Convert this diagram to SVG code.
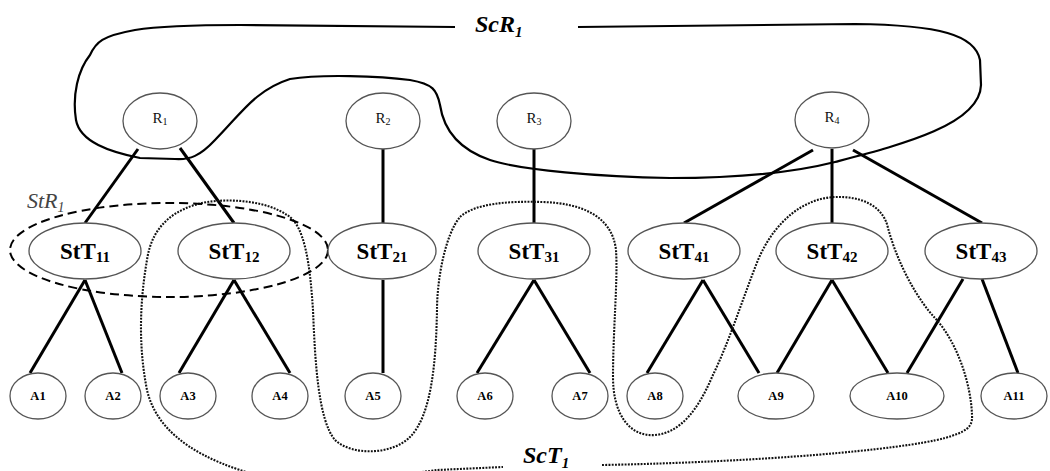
<svg xmlns="http://www.w3.org/2000/svg" width="1050" height="471" viewBox="0 0 1050 471">
<style>
.node{fill:#fff;stroke:#555;stroke-width:1.3}
.edge{stroke:#000;stroke-width:3;fill:none}
.rt{font-family:"Liberation Serif",serif;font-size:15px;fill:#111;text-anchor:middle}
.st{font-family:"Liberation Serif",serif;font-size:23px;font-weight:bold;fill:#000;text-anchor:middle}
.at{font-family:"Liberation Serif",serif;font-size:12.5px;font-weight:bold;fill:#000;text-anchor:middle}
.lbl{font-family:"Liberation Serif",serif;font-size:24px;font-weight:bold;font-style:italic;fill:#000}
.sub{font-size:15px}
.ssub{font-size:10px}
</style>
<rect width="1050" height="471" fill="#fff"/>
<g id="connectors">
<line class="edge" x1="138" y1="149" x2="85" y2="223"/>
<line class="edge" x1="180" y1="148" x2="234" y2="223"/>
<line class="edge" x1="383" y1="149" x2="383" y2="223"/>
<line class="edge" x1="534" y1="149" x2="534" y2="223"/>
<line class="edge" x1="813" y1="150" x2="684" y2="223"/>
<line class="edge" x1="832" y1="149" x2="832" y2="223"/>
<line class="edge" x1="853" y1="150" x2="982" y2="223"/>
<line class="edge" x1="85" y1="280" x2="30" y2="373"/>
<line class="edge" x1="85" y1="280" x2="122" y2="373"/>
<line class="edge" x1="234" y1="280" x2="179" y2="373"/>
<line class="edge" x1="234" y1="280" x2="290" y2="373"/>
<line class="edge" x1="383" y1="280" x2="383" y2="373"/>
<line class="edge" x1="534" y1="280" x2="477" y2="373"/>
<line class="edge" x1="534" y1="280" x2="590" y2="373"/>
<line class="edge" x1="703" y1="280" x2="647" y2="373"/>
<line class="edge" x1="703" y1="280" x2="759" y2="373"/>
<line class="edge" x1="832" y1="280" x2="777" y2="373"/>
<line class="edge" x1="832" y1="280" x2="888" y2="373"/>
<line class="edge" x1="963" y1="279" x2="907" y2="373"/>
<line class="edge" x1="982" y1="279" x2="1018" y2="373"/>
</g>
<g id="ScR1">
<path fill="none" stroke="#000" stroke-width="2.2" d="M 578,27 L 855,24 C 940,25 975,35 980,60 L 981,85 C 980,125 900,145 835,162 C 780,176 720,178 670,178 C 600,177 520,170 490,160 C 455,148 443,125 440,105 C 437,90 433,84 410,80 C 380,76 320,74 290,79 C 255,90 240,115 215,140 C 200,156 190,160 175,159 L 140,158 C 110,152 80,142 76,120 C 72,95 78,70 90,55 C 96,42 102,36 135,30 C 160,26 200,25 240,25 L 455,27"/>
<text class="lbl" x="475" y="32">ScR<tspan class="sub" dy="5">1</tspan></text>
</g>
<g id="ScT1">
<path fill="none" stroke="#111" stroke-width="2.1" stroke-dasharray="1.9 1.3" d="M 602,465 C 760,462 900,450 945,438 C 965,432 973,428 972,415 C 971,385 958,343 935,318 C 918,300 898,265 888,228 C 883,205 860,196 835,197 C 805,198 775,220 758,260 C 742,300 730,340 712,377 C 698,410 680,433 655,435 C 630,437 613,415 613,377 C 613,330 618,280 616,250 C 612,215 580,203 542,202 C 510,201 475,203 460,217 C 445,235 437,280 437,310 C 436,360 432,415 410,437 C 392,455 352,456 335,440 C 318,420 315,360 313,310 C 310,265 305,225 287,215 C 268,202 235,198 207,202 C 175,208 152,225 147,260 C 140,300 138,345 147,390 C 155,425 185,452 240,470 C 300,490 400,475 437,470 L 503,467"/>
<text class="lbl" x="523" y="463">ScT<tspan class="sub" dy="5">1</tspan></text>
</g>
<g id="StR1">
<ellipse cx="169" cy="250" rx="159" ry="47" fill="none" stroke="#000" stroke-width="2" stroke-dasharray="9 5"/>
<text x="27" y="208" font-family="Liberation Serif, serif" font-size="22" font-style="italic" fill="#444">StR<tspan font-size="14" dy="4">1</tspan></text>
</g>
<g id="R1"><ellipse class="node" cx="160" cy="121" rx="37" ry="28"/><text class="rt" x="160" y="123">R<tspan class="ssub" dy="2">1</tspan></text></g>
<g id="R2"><ellipse class="node" cx="383" cy="121" rx="37" ry="28"/><text class="rt" x="383" y="123">R<tspan class="ssub" dy="2">2</tspan></text></g>
<g id="R3"><ellipse class="node" cx="534" cy="121" rx="37" ry="28"/><text class="rt" x="534" y="123">R<tspan class="ssub" dy="2">3</tspan></text></g>
<g id="R4"><ellipse class="node" cx="832" cy="120" rx="37" ry="28"/><text class="rt" x="832" y="122">R<tspan class="ssub" dy="2">4</tspan></text></g>
<g id="StT11"><ellipse class="node" cx="85" cy="251" rx="56" ry="28"/><text class="st" x="85" y="259">StT<tspan class="sub" font-weight="bold" dy="3">11</tspan></text></g>
<g id="StT12"><ellipse class="node" cx="234" cy="251" rx="56" ry="28"/><text class="st" x="234" y="259">StT<tspan class="sub" font-weight="bold" dy="3">12</tspan></text></g>
<g id="StT21"><ellipse class="node" cx="382" cy="251" rx="54" ry="28"/><text class="st" x="382" y="259">StT<tspan class="sub" font-weight="bold" dy="3">21</tspan></text></g>
<g id="StT31"><ellipse class="node" cx="534" cy="251" rx="56" ry="28"/><text class="st" x="534" y="259">StT<tspan class="sub" font-weight="bold" dy="3">31</tspan></text></g>
<g id="StT41"><ellipse class="node" cx="684" cy="251" rx="56" ry="28"/><text class="st" x="684" y="259">StT<tspan class="sub" font-weight="bold" dy="3">41</tspan></text></g>
<g id="StT42"><ellipse class="node" cx="832" cy="251" rx="56" ry="28"/><text class="st" x="832" y="259">StT<tspan class="sub" font-weight="bold" dy="3">42</tspan></text></g>
<g id="StT43"><ellipse class="node" cx="981" cy="251" rx="56" ry="28"/><text class="st" x="981" y="259">StT<tspan class="sub" font-weight="bold" dy="3">43</tspan></text></g>
<g id="A1"><ellipse class="node" cx="38" cy="396" rx="28" ry="23"/><text class="at" x="38" y="400">A1</text></g>
<g id="A2"><ellipse class="node" cx="113" cy="396" rx="28" ry="23"/><text class="at" x="113" y="400">A2</text></g>
<g id="A3"><ellipse class="node" cx="188" cy="396" rx="28" ry="23"/><text class="at" x="188" y="400">A3</text></g>
<g id="A4"><ellipse class="node" cx="280" cy="396" rx="28" ry="23"/><text class="at" x="280" y="400">A4</text></g>
<g id="A5"><ellipse class="node" cx="373" cy="396" rx="28" ry="23"/><text class="at" x="373" y="400">A5</text></g>
<g id="A6"><ellipse class="node" cx="485" cy="396" rx="28" ry="23"/><text class="at" x="485" y="400">A6</text></g>
<g id="A7"><ellipse class="node" cx="580" cy="396" rx="28" ry="23"/><text class="at" x="580" y="400">A7</text></g>
<g id="A8"><ellipse class="node" cx="655" cy="396" rx="28" ry="23"/><text class="at" x="655" y="400">A8</text></g>
<g id="A9"><ellipse class="node" cx="776" cy="396" rx="38" ry="23"/><text class="at" x="776" y="400">A9</text></g>
<g id="A10"><ellipse class="node" cx="897" cy="396" rx="47" ry="23"/><text class="at" x="897" y="400">A10</text></g>
<g id="A11"><ellipse class="node" cx="1014" cy="396" rx="33" ry="23"/><text class="at" x="1014" y="400">A11</text></g>
</svg>
